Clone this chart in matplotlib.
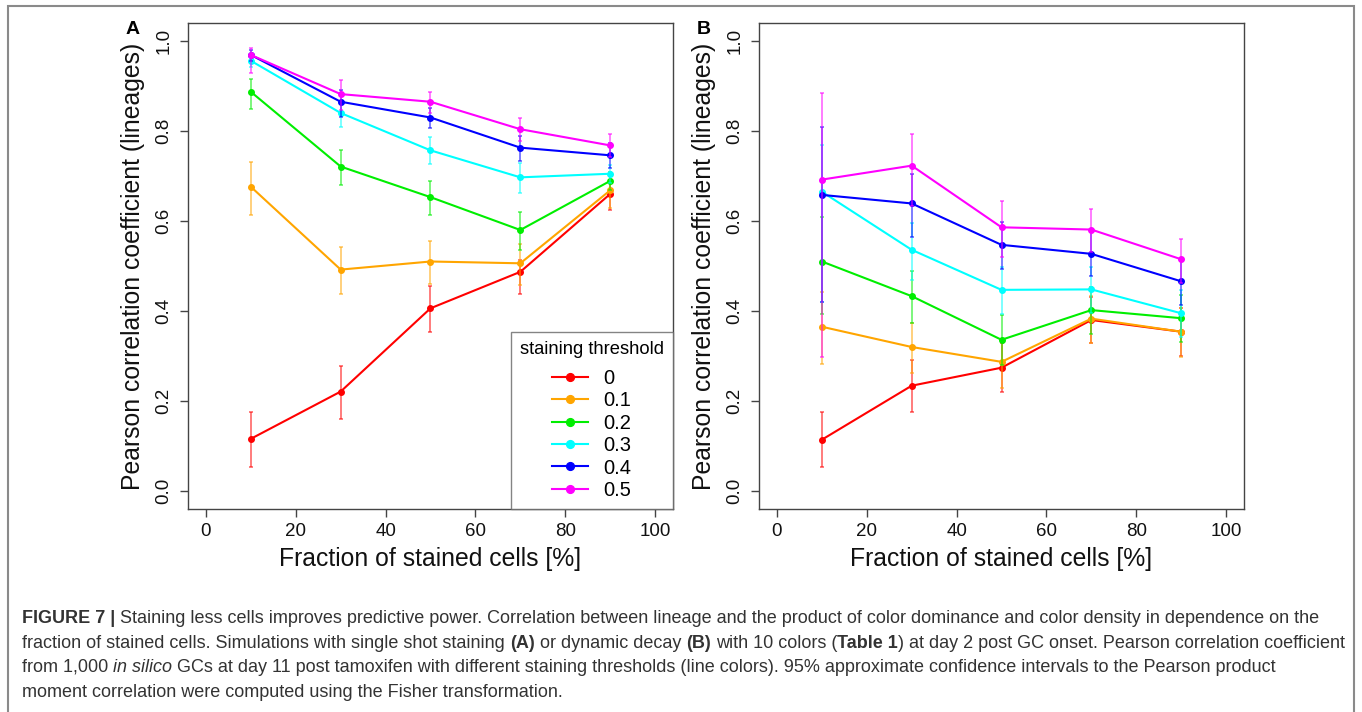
import matplotlib
matplotlib.use("Agg")
import matplotlib.pyplot as plt
from matplotlib.patches import Rectangle

plt.rcParams['font.family'] = ['Liberation Sans', 'DejaVu Sans']

# data
fractions = [10, 30, 50, 70, 90]
thresholds = ['0', '0.1', '0.2', '0.3', '0.4', '0.5']
colors = ['#ff0000', '#ffa500', '#00ee00', '#00ffff', '#0000ff', '#ff00ff']

# panel A: single shot staining
a_mean = [[0.116, 0.221, 0.406, 0.487, 0.660],
          [0.676, 0.492, 0.510, 0.506, 0.668],
          [0.887, 0.721, 0.653, 0.580, 0.689],
          [0.956, 0.840, 0.757, 0.697, 0.705],
          [0.969, 0.865, 0.830, 0.763, 0.746],
          [0.969, 0.882, 0.865, 0.804, 0.768]]
a_lo = [[0.054, 0.161, 0.353, 0.438, 0.624],
        [0.613, 0.437, 0.461, 0.458, 0.628],
        [0.849, 0.679, 0.613, 0.536, 0.668],
        [0.942, 0.810, 0.726, 0.662, 0.685],
        [0.955, 0.832, 0.806, 0.734, 0.717],
        [0.930, 0.847, 0.841, 0.778, 0.743]]
a_hi = [[0.176, 0.278, 0.456, 0.513, 0.692],
        [0.732, 0.543, 0.556, 0.548, 0.702],
        [0.916, 0.758, 0.690, 0.620, 0.708],
        [0.968, 0.866, 0.786, 0.728, 0.724],
        [0.980, 0.891, 0.852, 0.790, 0.773],
        [0.984, 0.914, 0.887, 0.828, 0.793]]

# panel B: dynamic decay
b_mean = [[0.114, 0.234, 0.274, 0.380, 0.354],
          [0.365, 0.320, 0.287, 0.383, 0.354],
          [0.510, 0.433, 0.336, 0.402, 0.384],
          [0.665, 0.536, 0.447, 0.448, 0.395],
          [0.658, 0.639, 0.547, 0.527, 0.466],
          [0.692, 0.723, 0.586, 0.581, 0.515]]
b_lo = [[0.053, 0.175, 0.220, 0.328, 0.300],
        [0.282, 0.262, 0.228, 0.328, 0.297],
        [0.393, 0.374, 0.279, 0.349, 0.331],
        [0.421, 0.470, 0.393, 0.395, 0.343],
        [0.421, 0.564, 0.493, 0.478, 0.414],
        [0.298, 0.633, 0.521, 0.532, 0.463]]
b_hi = [[0.175, 0.291, 0.330, 0.432, 0.406],
        [0.443, 0.374, 0.336, 0.433, 0.406],
        [0.610, 0.489, 0.392, 0.454, 0.435],
        [0.770, 0.595, 0.498, 0.497, 0.447],
        [0.810, 0.704, 0.598, 0.577, 0.516],
        [0.884, 0.793, 0.645, 0.627, 0.561]]

W, H = 1362, 712
fig = plt.figure(figsize=(W / 100, H / 100), dpi=100)

# outer frame of the figure box
fig.patches.append(Rectangle((8 / W, -0.02), 1346 / W, 706 / H + 0.02,
                             transform=fig.transFigure, fill=False,
                             edgecolor='#8a8a8a', lw=1.5))

spine_col = '#444444'


def draw_panel(ax, mean, lo, hi, letter, lx, show_legend):
    for i in range(len(thresholds)):
        err = [[m - l for m, l in zip(mean[i], lo[i])],
               [h - m for m, h in zip(mean[i], hi[i])]]
        ax.errorbar(fractions, mean[i], yerr=err, fmt='none', ecolor=colors[i],
                    elinewidth=1.1, capsize=1.5, capthick=1.1, alpha=0.65)
        ax.plot(fractions, mean[i], color=colors[i], lw=1.5, marker='o',
                markersize=4, label=thresholds[i])
    ax.set_xlim(-4, 104)
    ax.set_ylim(-0.04, 1.04)
    ax.set_xticks(range(0, 101, 20))
    ax.set_yticks([0.0, 0.2, 0.4, 0.6, 0.8, 1.0])
    ax.set_yticklabels(['0.0', '0.2', '0.4', '0.6', '0.8', '1.0'])
    ax.tick_params(direction='out', length=6, width=1, color=spine_col,
                   labelsize=13.5, labelcolor='#111111', pad=4)
    ax.tick_params(axis='y', labelrotation=90, pad=5)
    for lab in ax.get_yticklabels():
        lab.set_va('center')
    for s in ax.spines.values():
        s.set_color(spine_col)
        s.set_linewidth(1.0)
    ax.set_ylabel('Pearson correlation coefficient (lineages)', fontsize=17.8,
                  color='#111111')
    ax.set_xlabel('Fraction of stained cells [%]', fontsize=17.8, color='#111111')
    ax.yaxis.set_label_coords(-0.088, 0.5)
    ax.xaxis.set_label_coords(0.5, -0.078)
    fig.text(lx / W, 1 - 30 / H, letter, fontsize=14, fontweight='bold',
             ha='center', va='center')
    if show_legend:
        leg = ax.legend(title='staining threshold', loc='lower right',
                        bbox_to_anchor=(1.0, 0.0), borderaxespad=0,
                        fontsize=14.5, title_fontsize=13.2, fancybox=False,
                        frameon=True, handlelength=1.75, handletextpad=0.8,
                        labelspacing=0.17, borderpad=0.45, markerscale=1.4)
        leg.get_frame().set_edgecolor('#666666')
        leg.get_frame().set_linewidth(1.0)
        # wider gap between the title and the entries, as in the original
        leg._legend_box.sep = 7.5


ax_a = fig.add_axes([188 / W, 1 - 509 / H, 485 / W, 486 / H])
ax_b = fig.add_axes([759 / W, 1 - 509 / H, 485 / W, 486 / H])
draw_panel(ax_a, a_mean, a_lo, a_hi, 'A', 133, True)
draw_panel(ax_b, b_mean, b_lo, b_hi, 'B', 704, False)

# caption with mixed bold / italic runs
caption_lines = [
    [("FIGURE 7 |", 'bold', 'normal'),
     (" Staining less cells improves predictive power. Correlation between lineage and the product of color dominance and color density in dependence on the", 'normal', 'normal')],
    [("fraction of stained cells. Simulations with single shot staining ", 'normal', 'normal'),
     ("(A)", 'bold', 'normal'),
     (" or dynamic decay ", 'normal', 'normal'),
     ("(B)", 'bold', 'normal'),
     (" with 10 colors (", 'normal', 'normal'),
     ("Table 1", 'bold', 'normal'),
     (") at day 2 post GC onset. Pearson correlation coefficient", 'normal', 'normal')],
    [("from 1,000 ", 'normal', 'normal'),
     ("in silico", 'normal', 'italic'),
     (" GCs at day 11 post tamoxifen with different staining thresholds (line colors). 95% approximate confidence intervals to the Pearson product", 'normal', 'normal')],
    [("moment correlation were computed using the Fisher transformation.", 'normal', 'normal')],
]
cap_size = 13
cap_col = '#333333'
line_base = [623, 648, 672, 697]

renderer = fig.canvas.get_renderer()


def text_width(s, weight, style):
    t = fig.text(0, 0, s, fontsize=cap_size, fontweight=weight, fontstyle=style)
    w = t.get_window_extent(renderer).width
    t.remove()
    return w


space_w = text_width("x x", 'normal', 'normal') - text_width("xx", 'normal', 'normal')

for runs, y in zip(caption_lines, line_base):
    x = 22.0
    for s, weight, style in runs:
        if s.startswith(' '):
            x += space_w
        core = s.strip()
        t = fig.text(x / W, 1 - y / H, core, fontsize=cap_size, fontweight=weight,
                     fontstyle=style, color=cap_col, va='baseline', ha='left')
        x += t.get_window_extent(renderer).width
        if s.endswith(' '):
            x += space_w

fig.savefig('out.png', dpi=100)
